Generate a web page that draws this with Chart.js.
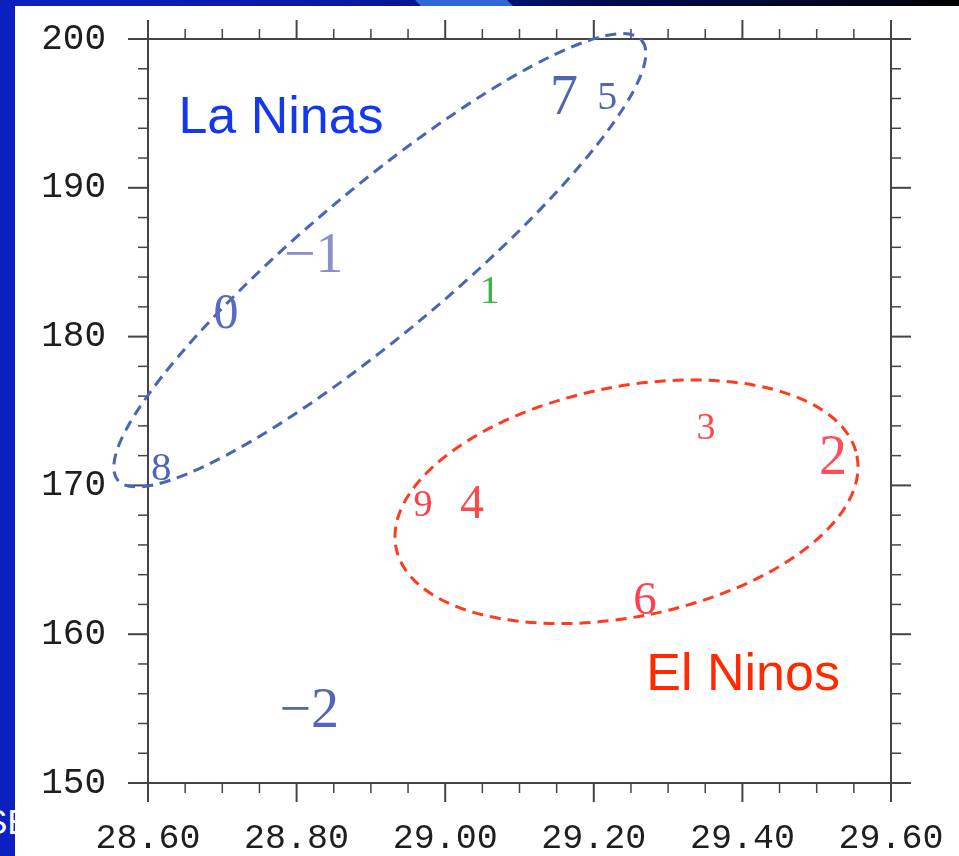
<!DOCTYPE html>
<html>
<head>
<meta charset="utf-8">
<title>La Ninas / El Ninos</title>
<script src="https://cdn.jsdelivr.net/npm/chart.js@4.4.0/dist/chart.umd.min.js"></script>
<style>
  html, body { margin: 0; padding: 0; }
  body { width: 959px; height: 856px; position: relative; overflow: hidden; background: #fff; }
  .leftbar { position: absolute; left: 0; top: 0; width: 15px; height: 856px; background: #0a20c0; overflow: hidden; }
  .topbar { position: absolute; left: 0; top: 0; width: 959px; height: 6px; overflow: hidden;
    background: linear-gradient(90deg, #0c20c0 0%, #0a1aa8 30%, #081690 45%, #000a5a 60%, #000530 80%, #000 100%); }
  .swoosh { position: absolute; left: 418px; top: 0; width: 92px; height: 6px; background: #3266d4; transform: skewX(45deg); }
  .slidetext { position: absolute; left: -16px; top: 802px; color: #fff; font: 35px "Liberation Sans", Arial, sans-serif; white-space: nowrap; }
  #chart { position: absolute; left: 0; top: 0; }
</style>
</head>
<body>
<div class="leftbar"><span class="slidetext">SE</span></div>
<div class="topbar"><div class="swoosh"></div></div>
<canvas id="chart" width="959" height="856"></canvas>
<script>
// year labels and where each one sits
const years = ["\u22122", "\u22121", "0", "1", "2", "3", "4", "5", "6", "7", "8", "9"];
const sst = [28.817, 28.823, 28.705, 29.060, 29.522, 29.351, 29.036, 29.218, 29.269, 29.160, 28.618, 28.970];
const lon = [154.75, 185.33, 181.43, 182.98, 171.75, 173.77, 168.66, 196.01, 162.21, 195.95, 171.08, 168.60];

const sstTicks = [28.6, 28.8, 29.0, 29.2, 29.4, 29.6];
const lonTicks = [150, 160, 170, 180, 190, 200];

// look of each year label
const labelColors = ["#5565b8", "#8e8ec8", "#5a6ac0", "#3cb44a", "#ff4d5a", "#ff4848",
                     "#ff4848", "#4e66b4", "#ff4050", "#4e66b0", "#4e66b8", "#ff4040"];
const labelSizes = [56, 56, 50, 40, 56, 38, 48, 40, 47, 56, 41, 38];

// group outlines: center in data units, radii in pixels
const groups = [
  { cx: 28.912, cy: 185.13, rx: 342, ry: 72, rot: -40, color: "#4a64b8" },
  { cx: 29.244, cy: 168.90, rx: 235, ry: 115, rot: -11.3, color: "#ff3a1e" }
];
const notes = [
  { text: "La Ninas", x: 28.779, y: 194.67, color: "#1438f0" },
  { text: "El Ninos", x: 29.401, y: 157.24, color: "#ff2a00" }
];

const frameColor = "#444";

// keep the plot box where it is, labels may hang over the edges
const noOverhang = s => { s.paddingTop = 0; s.paddingBottom = 0; s.paddingLeft = 0; s.paddingRight = 0; };

const ncarLook = {
  id: "ncarLook",
  afterDraw(chart) {
    const ctx = chart.ctx;
    const xs = chart.scales.x, ys = chart.scales.y;
    const a = chart.chartArea;
    ctx.save();

    // frame
    ctx.strokeStyle = frameColor;
    ctx.lineWidth = 2;
    ctx.strokeRect(a.left, a.top, a.right - a.left, a.bottom - a.top);

    // ticks, all pointing outward
    const tick = (x1, y1, x2, y2, major) => {
      ctx.lineWidth = major ? 2 : 1.5;
      ctx.beginPath();
      ctx.moveTo(x1, y1);
      ctx.lineTo(x2, y2);
      ctx.stroke();
    };
    for (let i = 0; i < sstTicks.length; i++) {
      const px = xs.getPixelForValue(sstTicks[i]);
      tick(px, a.bottom, px, a.bottom + 19, true);
      tick(px, a.top, px, a.top - 19, true);
      if (i === sstTicks.length - 1) break;
      const step = (sstTicks[i + 1] - sstTicks[i]) / 4;
      for (let k = 1; k < 4; k++) {
        const mx = xs.getPixelForValue(sstTicks[i] + k * step);
        tick(mx, a.bottom, mx, a.bottom + 10, false);
        tick(mx, a.top, mx, a.top - 10, false);
      }
    }
    for (let i = 0; i < lonTicks.length; i++) {
      const py = ys.getPixelForValue(lonTicks[i]);
      tick(a.left, py, a.left - 20, py, true);
      tick(a.right, py, a.right + 20, py, true);
      if (i === lonTicks.length - 1) break;
      const step = (lonTicks[i + 1] - lonTicks[i]) / 5;
      for (let k = 1; k < 5; k++) {
        const my = ys.getPixelForValue(lonTicks[i] + k * step);
        tick(a.left, my, a.left - 10, my, false);
        tick(a.right, my, a.right + 10, my, false);
      }
    }

    // dashed group outlines
    ctx.lineWidth = 3;
    ctx.setLineDash([11, 7]);
    groups.forEach(g => {
      ctx.strokeStyle = g.color;
      ctx.beginPath();
      ctx.ellipse(xs.getPixelForValue(g.cx), ys.getPixelForValue(g.cy), g.rx, g.ry,
        g.rot * Math.PI / 180, 0, Math.PI * 2);
      ctx.stroke();
    });
    ctx.setLineDash([]);

    // year labels at the point positions
    ctx.textAlign = "center";
    ctx.textBaseline = "middle";
    chart.getDatasetMeta(0).data.forEach((pt, i) => {
      ctx.font = labelSizes[i] + 'px "Liberation Serif", serif';
      ctx.fillStyle = labelColors[i];
      ctx.fillText(years[i], pt.x, pt.y);
    });

    // group names
    ctx.font = '52px "Liberation Sans", Arial, sans-serif';
    notes.forEach(n => {
      ctx.fillStyle = n.color;
      ctx.fillText(n.text, xs.getPixelForValue(n.x), ys.getPixelForValue(n.y));
    });
    ctx.restore();
  }
};

new Chart(document.getElementById("chart"), {
  type: "scatter",
  data: {
    datasets: [{
      data: sst.map((v, i) => ({ x: v, y: lon[i] })),
      pointRadius: 0,
      pointHoverRadius: 0
    }]
  },
  options: {
    responsive: false,
    animation: false,
    devicePixelRatio: 1,
    layout: { padding: { top: 39, right: 68, left: 0, bottom: 0 } },
    plugins: { legend: { display: false }, tooltip: { enabled: false } },
    scales: {
      x: {
        type: "linear",
        min: 28.6,
        max: 29.6,
        afterBuildTicks: s => { s.ticks = sstTicks.map(v => ({ value: v })); },
        afterFit: s => { s.height = 73; noOverhang(s); },
        grid: { display: false, drawTicks: false },
        border: { display: false },
        ticks: {
          color: "#1e1e1e",
          font: { family: "Liberation Mono", size: 35 },
          padding: 35,
          maxRotation: 0,
          autoSkip: false,
          callback: v => Number(v).toFixed(2)
        }
      },
      y: {
        type: "linear",
        min: 150,
        max: 200,
        afterBuildTicks: s => { s.ticks = lonTicks.map(v => ({ value: v })); },
        afterFit: s => { s.width = 148; noOverhang(s); },
        grid: { display: false, drawTicks: false },
        border: { display: false },
        ticks: {
          color: "#1e1e1e",
          font: { family: "Liberation Mono", size: 36 },
          padding: 42,
          autoSkip: false,
          callback: v => String(v)
        }
      }
    }
  },
  plugins: [ncarLook]
});
</script>
</body>
</html>
